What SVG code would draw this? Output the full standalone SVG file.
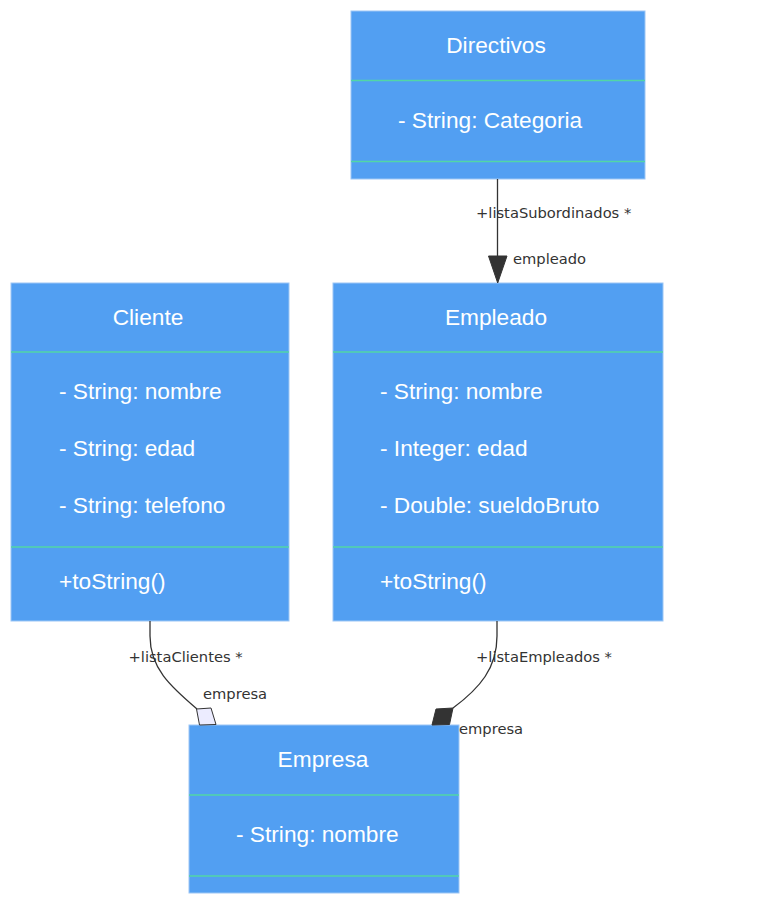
<svg xmlns="http://www.w3.org/2000/svg" width="757" height="904" viewBox="0 0 757 904">
<style>
.box{fill:#529ff2;stroke:#9cc6f5;stroke-width:1}
.div{stroke:#52d6a6;stroke-width:1.5}
.t{font-family:"Liberation Sans",Arial,sans-serif;font-size:22.7px;fill:#ffffff}
.c{text-anchor:middle}
.lbl{font-family:"DejaVu Sans",Verdana,sans-serif;font-size:14.7px;fill:#333333}
.edge{fill:none;stroke:#333333;stroke-width:1.3}
</style>
<rect width="757" height="904" fill="#ffffff"/>
<g id="Directivos">
<rect class="box" x="351" y="11" width="294" height="168"/>
<line class="div" x1="351" y1="80.5" x2="645" y2="80.5"/>
<line class="div" x1="351" y1="161.5" x2="645" y2="161.5"/>
<text class="t c" x="496" y="53">Directivos</text>
<text class="t" x="398" y="128">- String: Categoria</text>
</g>
<g id="Cliente">
<rect class="box" x="11" y="283" width="278" height="338"/>
<line class="div" x1="11" y1="352" x2="289" y2="352"/>
<line class="div" x1="11" y1="547" x2="289" y2="547"/>
<text class="t c" x="148" y="325">Cliente</text>
<text class="t" x="59" y="399">- String: nombre</text>
<text class="t" x="59" y="456">- String: edad</text>
<text class="t" x="59" y="513">- String: telefono</text>
<text class="t" x="59" y="589">+toString()</text>
</g>
<g id="Empleado">
<rect class="box" x="333" y="283" width="330" height="338"/>
<line class="div" x1="333" y1="352" x2="663" y2="352"/>
<line class="div" x1="333" y1="547" x2="663" y2="547"/>
<text class="t c" x="496" y="325">Empleado</text>
<text class="t" x="380" y="399">- String: nombre</text>
<text class="t" x="380" y="456">- Integer: edad</text>
<text class="t" x="380" y="513">- Double: sueldoBruto</text>
<text class="t" x="380" y="589">+toString()</text>
</g>
<g id="Empresa">
<rect class="box" x="189" y="725" width="270" height="168"/>
<line class="div" x1="189" y1="795" x2="459" y2="795"/>
<line class="div" x1="189" y1="876" x2="459" y2="876"/>
<text class="t c" x="323" y="767">Empresa</text>
<text class="t" x="236" y="842">- String: nombre</text>
</g>
<g id="connectors">
<line class="edge" x1="497.5" y1="179" x2="497.5" y2="257"/>
<polygon points="488.5,256 507,256 497.7,283" fill="#333333" stroke="#333333" stroke-width="1"/>
<path class="edge" d="M150,621 L150,636 C150,668 170,686 197,709"/>
<polygon points="196.5,709 211,708 216,724.5 199.5,725" fill="#ececff" stroke="#333333" stroke-width="1"/>
<path class="edge" d="M497,621 L497,636 C497,668 480,688 453,708"/>
<polygon points="436,709 453,708 449.5,724.5 432,725" fill="#333333" stroke="#333333" stroke-width="1"/>
<text class="lbl" x="476" y="218">+listaSubordinados *</text>
<text class="lbl" x="513" y="264">empleado</text>
<text class="lbl" x="128.5" y="662">+listaClientes *</text>
<text class="lbl" x="203" y="699">empresa</text>
<text class="lbl" x="476" y="662">+listaEmpleados *</text>
<text class="lbl" x="459" y="734">empresa</text>
</g>
</svg>
